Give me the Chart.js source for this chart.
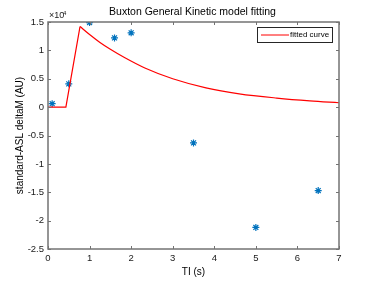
<!DOCTYPE html>
<html>
<head>
<meta charset="utf-8">
<script src="https://cdn.jsdelivr.net/npm/chart.js@4/dist/chart.umd.min.js"></script>
<style>
  html, body { margin: 0; padding: 0; background: #fff; }
  #wrap { width: 375px; height: 281px; }
</style>
</head>
<body>
<div id="wrap"><canvas id="fitChart"></canvas></div>
<script>
// measured points (TI in s, deltaM)
const tiMeasured = [0.1, 0.5, 1.0, 1.6, 2.0, 3.5, 5.0, 6.5];
const dmMeasured = [600, 4100, 14900, 12200, 13100, -6300, -21200, -14700];

// fitted curve: bolus arrival part and decay part
const tiRise = [0, 0.43, 0.77];
const dmRise = [0, 0, 14200];
const tiDecay = [0.77, 1.0, 1.25, 1.5, 1.85, 2.33, 3.0, 3.8, 4.6, 5.5, 6.3, 7.0];
const dmDecay = [14200, 12800, 11400, 10200, 8700, 6900, 5000, 3400, 2350, 1600, 1100, 770];

const xTicks = [0, 1, 2, 3, 4, 5, 6, 7];
const yTicks = [-25000, -20000, -15000, -10000, -5000, 0, 5000, 10000, 15000];

const toXY = (xs, ys) => xs.map((x, i) => ({ x: x, y: ys[i] }));

const axisCol = '#737373';
const font = '"Liberation Sans", Arial, sans-serif';

// draws the box, inward ticks, labels, exponent and legend (matlab look)
const matlabAxes = {
  id: 'matlabAxes',
  afterDraw(chart) {
    const ctx = chart.ctx;
    const a = chart.chartArea;
    const xs = chart.scales.x, ys = chart.scales.y;
    ctx.save();
    ctx.strokeStyle = axisCol;
    ctx.lineWidth = 1.5;
    ctx.strokeRect(a.left, a.top, a.right - a.left, a.bottom - a.top);
    ctx.lineWidth = 1;
    ctx.beginPath();
    xTicks.forEach(t => {
      const px = Math.round(xs.getPixelForValue(t)) + 0.5;
      ctx.moveTo(px, a.bottom); ctx.lineTo(px, a.bottom - 3);
      ctx.moveTo(px, a.top); ctx.lineTo(px, a.top + 3);
    });
    yTicks.forEach(t => {
      const py = Math.round(ys.getPixelForValue(t)) + 0.5;
      ctx.moveTo(a.left, py); ctx.lineTo(a.left + 3, py);
      ctx.moveTo(a.right, py); ctx.lineTo(a.right - 3, py);
    });
    ctx.stroke();

    // tick labels
    ctx.fillStyle = '#1a1a1a';
    ctx.font = '9.5px ' + font;
    ctx.textAlign = 'center';
    ctx.textBaseline = 'middle';
    xTicks.forEach(t => ctx.fillText(String(t), xs.getPixelForValue(t), a.bottom + 9));
    ctx.textAlign = 'right';
    yTicks.forEach(t => ctx.fillText(String(t / 10000), a.left - 4, ys.getPixelForValue(t)));

    // exponent
    ctx.textAlign = 'left';
    ctx.font = '9px ' + font;
    ctx.fillText('\u00d710', a.left + 1, a.top - 6);
    ctx.font = '6px ' + font;
    ctx.fillText('4', a.left + 15, a.top - 9);

    // title and axis titles
    ctx.font = '10.5px ' + font;
    ctx.textAlign = 'center';
    ctx.fillStyle = '#000';
    ctx.fillText('Buxton General Kinetic model fitting', (a.left + a.right) / 2 - 1, 12);
    ctx.font = '10px ' + font;
    ctx.fillText('TI (s)', (a.left + a.right) / 2, 272);
    ctx.save();
    ctx.translate(20, (a.top + a.bottom) / 2);
    ctx.rotate(-Math.PI / 2);
    ctx.fillText('standard-ASL deltaM (AU)', 0, 0);
    ctx.restore();

    // legend
    const lx = 257, ly = 27, lw = 75, lh = 15;
    ctx.fillStyle = '#fff';
    ctx.fillRect(lx, ly, lw, lh);
    ctx.strokeStyle = '#262626';
    ctx.lineWidth = 1;
    ctx.strokeRect(lx + 0.5, ly + 0.5, lw, lh);
    ctx.strokeStyle = '#ff0000';
    ctx.beginPath();
    ctx.moveTo(lx + 4, ly + 8); ctx.lineTo(lx + 32, ly + 8);
    ctx.stroke();
    ctx.fillStyle = '#000';
    ctx.textAlign = 'left';
    ctx.font = '8px "Liberation Sans Narrow", ' + font;
    ctx.fillText(chart.data.datasets[0].label, lx + 33, ly + 8);
    ctx.restore();
  }
};

new Chart(document.getElementById('fitChart'), {
  type: 'scatter',
  data: {
    datasets: [
      {
        label: 'fitted curve',
        type: 'line',
        data: toXY(tiRise, dmRise),
        borderColor: '#ff0000',
        borderWidth: 1.2,
        pointRadius: 0,
        tension: 0,
        fill: false
      },
      {
        label: 'fitted curve (decay)',
        type: 'line',
        data: toXY(tiDecay, dmDecay),
        borderColor: '#ff0000',
        borderWidth: 1.2,
        pointRadius: 0,
        cubicInterpolationMode: 'monotone',
        fill: false
      },
      {
        label: 'data',
        data: toXY(tiMeasured, dmMeasured),
        pointStyle: 'star',
        pointRadius: 3.5,
        borderColor: '#0072BD',
        backgroundColor: '#0072BD',
        borderWidth: 1.2
      }
    ]
  },
  options: {
    responsive: true,
    maintainAspectRatio: false,
    animation: false,
    layout: { padding: { top: 22, right: 36, left: 0, bottom: 0 } },
    plugins: {
      legend: { display: false },
      tooltip: { enabled: false }
    },
    scales: {
      x: {
        type: 'linear',
        min: 0, max: 7,
        grid: { display: false },
        border: { display: false },
        ticks: { display: false },
        afterFit: s => { s.height = 32; }
      },
      y: {
        min: -25000, max: 15000,
        grid: { display: false },
        border: { display: false },
        ticks: { display: false },
        afterFit: s => { s.width = 48; }
      }
    }
  },
  plugins: [matlabAxes]
});
</script>
</body>
</html>
